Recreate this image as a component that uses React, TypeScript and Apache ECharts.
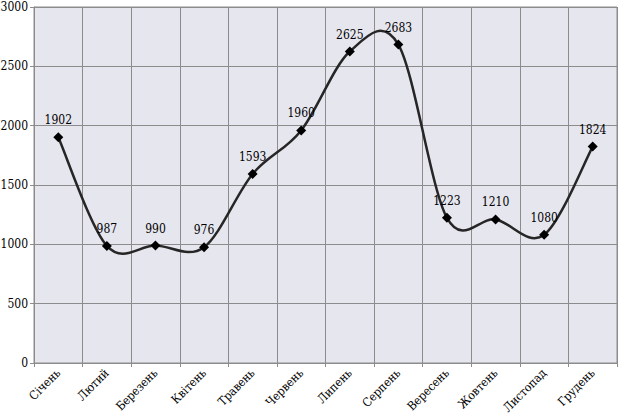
import React, { useEffect, useRef } from "react";
import * as echarts from "echarts";

const months = [
  "Січень", "Лютий", "Березень", "Квітень", "Травень", "Червень",
  "Липень", "Серпень", "Вересень", "Жовтень", "Листопад", "Грудень",
];
const values = [1902, 987, 990, 976, 1593, 1960, 2625, 2683, 1223, 1210, 1080, 1824];
const yTicks = [0, 500, 1000, 1500, 2000, 2500, 3000];

const FONT = "DejaVu Serif Condensed";

function buildCurve(pts: number[][]): string {
  if (pts.length === 0) return "";
  let d = `M${pts[0][0]},${pts[0][1]}`;
  for (let i = 0; i < pts.length - 1; i++) {
    const p0 = pts[Math.max(0, i - 1)];
    const p1 = pts[i];
    const p2 = pts[i + 1];
    const p3 = pts[Math.min(pts.length - 1, i + 2)];
    const c1x = p1[0] + (p2[0] - p0[0]) / 6;
    const c1y = p1[1] + (p2[1] - p0[1]) / 6;
    const c2x = p2[0] - (p3[0] - p1[0]) / 6;
    const c2y = p2[1] - (p3[1] - p1[1]) / 6;
    d += ` C${c1x},${c1y} ${c2x},${c2y} ${p2[0]},${p2[1]}`;
  }
  return d;
}

export default function App() {
  const ref = useRef<HTMLDivElement>(null);
  useEffect(() => {
    const chart = echarts.init(ref.current!, null, { renderer: "svg" });
    chart.setOption({
      animation: false,
      backgroundColor: "#ffffff",
      textStyle: { fontFamily: FONT },
      grid: {
        left: 34, right: 1, top: 7, bottom: 56, outerBoundsMode: "none", containLabel: false,
        show: true, backgroundColor: "#e6e6ef", borderColor: "#8c8c8c", borderWidth: 1,
      },
      xAxis: {
        type: "category",
        data: months,
        boundaryGap: true,
        axisLine: { lineStyle: { color: "#8c8c8c", width: 1 } },
        axisTick: { show: true, length: 4, lineStyle: { color: "#8c8c8c" } },
        splitLine: { show: true, lineStyle: { color: "#8c8c8c", width: 1 } },
        axisLabel: { rotate: 45, fontFamily: FONT, fontSize: 12, color: "#000", margin: 8, interval: 0 },
      },
      yAxis: {
        type: "value",
        min: yTicks[0],
        max: yTicks[yTicks.length - 1],
        interval: yTicks[1] - yTicks[0],
        axisLine: { show: true, lineStyle: { color: "#8c8c8c", width: 1 } },
        axisTick: { show: true, length: 4, lineStyle: { color: "#8c8c8c" } },
        splitLine: { show: true, lineStyle: { color: "#8c8c8c", width: 1 } },
        axisLabel: { fontFamily: FONT, fontSize: 12, color: "#000", margin: 6, formatter: (v: number) => String(v) },
      },
      series: [
        {
          type: "custom",
          z: 1,
          silent: true,
          data: [[0, values[0]]],
          renderItem: (_params: any, api: any) => {
            const pts = values.map((v, i) => api.coord([i, v]));
            return {
              type: "path",
              shape: { pathData: buildCurve(pts) },
              style: { stroke: "#262626", lineWidth: 2.5, fill: "none" },
            };
          },
        },
        {
          type: "line",
          z: 2,
          data: values,
          symbol: "diamond",
          symbolSize: 10,
          itemStyle: { color: "#000" },
          lineStyle: { width: 0, opacity: 0 },
          label: { show: true, position: "top", distance: 6, fontFamily: FONT, fontSize: 12, color: "#000" },
        },
      ],
    });
    return () => chart.dispose();
  }, []);
  return <div ref={ref} style={{ width: 618, height: 419, position: "absolute", left: 0, top: 0 }} />;
}
